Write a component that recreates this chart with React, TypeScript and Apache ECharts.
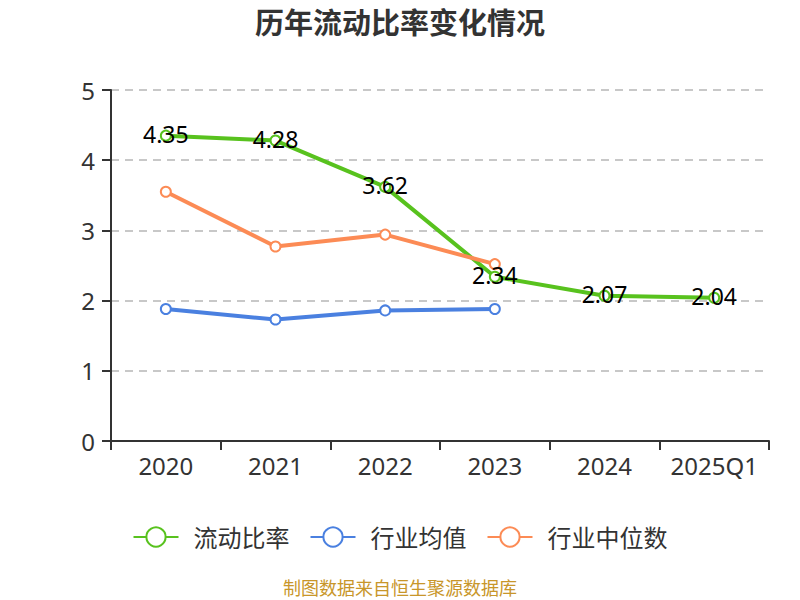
import React, { useEffect, useRef } from "react";
import * as echarts from "echarts";

const categories = ["2020", "2021", "2022", "2023", "2024", "2025Q1"];
const currentRatio = [4.35, 4.28, 3.62, 2.34, 2.07, 2.04];
const industryAvg = [1.88, 1.73, 1.86, 1.88, null, null];
const industryMedian = [3.55, 2.77, 2.94, 2.52, null, null];

export default function App() {
  const ref = useRef<HTMLDivElement>(null);
  useEffect(() => {
    document.body.style.margin = "0";
    const chart = echarts.init(ref.current!, null, { renderer: "svg" });
    const font = "'Noto Sans', 'Noto Sans CJK SC', sans-serif";
    chart.setOption({
      animation: false,
      textStyle: { fontFamily: font },
      title: {
        text: "历年流动比率变化情况",
        left: "center",
        top: 3,
        textStyle: { fontSize: 29, fontWeight: "bold", color: "#333", fontFamily: font },
      },
      grid: { left: 111, right: 31, top: 90, bottom: 159 },
      legend: {
        bottom: 46,
        left: "center",
        itemWidth: 45,
        itemHeight: 24,
        itemGap: 20,
        textStyle: { fontSize: 24, color: "#333", padding: [0, 0, 0, 10] },
        data: ["流动比率", "行业均值", "行业中位数"],
      },
      graphic: [
        {
          type: "text",
          left: "center",
          top: 579,
          style: { text: "制图数据来自恒生聚源数据库", fill: "#c8962a", fontSize: 18, fontFamily: font },
        },
      ],
      xAxis: {
        type: "category",
        data: categories,
        boundaryGap: true,
        axisLine: { lineStyle: { color: "#333", width: 2 } },
        axisTick: { show: true, interval: 0, length: 9, lineStyle: { color: "#333", width: 2 } },
        axisLabel: { interval: 0, fontSize: 24, color: "#333", margin: 12 },
      },
      yAxis: {
        type: "value",
        min: 0,
        max: 5,
        interval: 1,
        axisLine: { show: true, lineStyle: { color: "#333", width: 2 } },
        axisTick: { show: true, length: 9, lineStyle: { color: "#333", width: 2 } },
        axisLabel: { fontSize: 24, color: "#333", margin: 16 },
        splitLine: { lineStyle: { type: [8, 6], color: "#c8c8c8", width: 2 } },
      },
      series: [
        {
          name: "流动比率",
          type: "line",
          data: currentRatio,
          color: "#58c21e",
          symbol: "emptyCircle",
          symbolSize: 10,
          lineStyle: { width: 4 },
          label: { show: true, position: "inside", offset: [0, -2], fontSize: 23, color: "#000" },
          z: 3,
        },
        {
          name: "行业均值",
          type: "line",
          data: industryAvg,
          color: "#4a80e0",
          symbol: "emptyCircle",
          symbolSize: 10,
          lineStyle: { width: 4 },
        },
        {
          name: "行业中位数",
          type: "line",
          data: industryMedian,
          color: "#fc8b55",
          symbol: "emptyCircle",
          symbolSize: 10,
          lineStyle: { width: 4 },
        },
      ],
    });
    return () => chart.dispose();
  }, []);
  return <div ref={ref} style={{ width: 800, height: 600 }} />;
}
